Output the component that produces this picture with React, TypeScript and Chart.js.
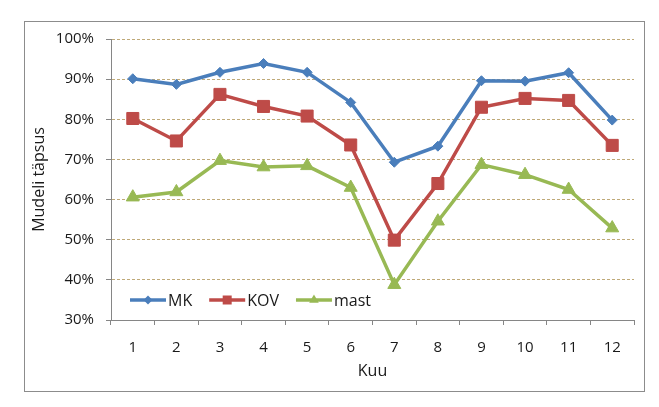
import { useEffect, useRef } from "react";
import { Chart, registerables } from "chart.js";

Chart.register(...registerables);

const months = ["1", "2", "3", "4", "5", "6", "7", "8", "9", "10", "11", "12"];
const mkValues = [90.1, 88.7, 91.7, 93.9, 91.7, 84.2, 69.3, 73.3, 89.6, 89.5, 91.6, 79.8];
const kovValues = [80.2, 74.6, 86.2, 83.2, 80.8, 73.6, 49.9, 64.0, 83.0, 85.2, 84.7, 73.5];
const mastValues = [60.6, 61.9, 69.7, 68.1, 68.4, 63.0, 38.8, 54.6, 68.7, 66.2, 62.5, 52.9];
const yTicks = [30, 40, 50, 60, 70, 80, 90, 100];

const FONT = "'Open Sans', sans-serif";
const TEXT = "#1a1a1a";
const AXIS = "#868686";

// small marker for the legend swatch
function drawMarker(ctx: CanvasRenderingContext2D, style: string, cx: number, cy: number) {
  ctx.beginPath();
  if (style === "rectRot") {
    const r = 4.5;
    ctx.moveTo(cx, cy - r);
    ctx.lineTo(cx + r, cy);
    ctx.lineTo(cx, cy + r);
    ctx.lineTo(cx - r, cy);
  } else if (style === "rect") {
    const h = 4.5;
    ctx.rect(cx - h, cy - h, 2 * h, 2 * h);
  } else {
    const r = 5.5;
    ctx.moveTo(cx, cy - r);
    ctx.lineTo(cx + r * 0.87, cy + r * 0.5);
    ctx.lineTo(cx - r * 0.87, cy + r * 0.5);
  }
  ctx.closePath();
  ctx.fill();
}

// legend drawn inside the plot area, bottom left (Excel style)
const insideLegend = {
  id: "insideLegend",
  afterDraw(chart: any) {
    const { ctx, chartArea } = chart;
    let x = chartArea.left + 19;
    const y = chartArea.bottom - 20;
    ctx.save();
    ctx.font = `16px ${FONT}`;
    ctx.textBaseline = "middle";
    chart.data.datasets.forEach((ds: any) => {
      const lineLen = 36;
      ctx.strokeStyle = ds.borderColor;
      ctx.lineWidth = 3.5;
      ctx.beginPath();
      ctx.moveTo(x, y);
      ctx.lineTo(x + lineLen, y);
      ctx.stroke();
      ctx.fillStyle = ds.borderColor;
      drawMarker(ctx, ds.pointStyle, x + lineLen / 2, y);
      ctx.fillStyle = TEXT;
      ctx.fillText(ds.label, x + lineLen + 2, y + 1);
      x += lineLen + 2 + ctx.measureText(ds.label).width + 17;
    });
    ctx.restore();
  },
};

export default function App() {
  const canvasRef = useRef<HTMLCanvasElement | null>(null);

  useEffect(() => {
    if (!canvasRef.current) return;
    const chart = new Chart(canvasRef.current, {
      type: "line",
      data: {
        labels: months,
        datasets: [
          {
            label: "MK",
            data: mkValues,
            borderColor: "#4a7ebb",
            backgroundColor: "#4a7ebb",
            borderWidth: 3.5,
            pointStyle: "rectRot",
            pointRadius: 5,
            pointBorderWidth: 1,
            tension: 0,
            order: 2,
          },
          {
            label: "KOV",
            data: kovValues,
            borderColor: "#be4b48",
            backgroundColor: "#be4b48",
            borderWidth: 3.5,
            pointStyle: "rect",
            pointRadius: 8.5,
            pointBorderWidth: 1,
            tension: 0,
            order: 1,
          },
          {
            label: "mast",
            data: mastValues,
            borderColor: "#98b954",
            backgroundColor: "#98b954",
            borderWidth: 3.5,
            pointStyle: "triangle",
            pointRadius: 7.5,
            pointBorderWidth: 1,
            tension: 0,
            order: 0,
          },
        ],
      },
      options: {
        animation: false,
        responsive: true,
        maintainAspectRatio: false,
        layout: { padding: { left: 24, right: 25, top: 39, bottom: 20 } },
        plugins: {
          legend: { display: false },
          tooltip: { enabled: false },
        },
        scales: {
          x: {
            offset: true,
            afterFit(scale: any) {
              scale.height = 407 - 20 - 320;
            },
            grid: {
              display: true,
              offset: true,
              drawOnChartArea: false,
              drawTicks: true,
              tickLength: 5,
              tickColor: AXIS,
            },
            border: { color: AXIS, width: 1 },
            ticks: {
              color: TEXT,
              padding: 14,
              font: { family: FONT, size: 15 },
            },
            title: {
              display: true,
              text: "Kuu",
              color: TEXT,
              padding: { top: 0, bottom: 6 },
              font: { family: FONT, size: 16 },
            },
          },
          y: {
            min: 30,
            max: 100,
            afterFit(scale: any) {
              scale.width = 111 - 24;
            },
            afterBuildTicks(scale: any) {
              scale.ticks = yTicks.map((v) => ({ value: v }));
            },
            grid: {
              color: (ctx: any) => (ctx.tick && ctx.tick.value === 30 ? "rgba(0,0,0,0)" : "#bfa978"),
              tickColor: AXIS,
              tickLength: 5,
              drawTicks: true,
            },
            border: { color: AXIS, width: 1, dash: [3, 2] },
            ticks: {
              color: TEXT,
              padding: 12,
              font: { family: FONT, size: 15 },
              callback: (v: any) => `${v}%`,
            },
            title: {
              display: true,
              text: "Mudeli täpsus",
              color: TEXT,
              padding: { top: 6, bottom: 0 },
              font: { family: FONT, size: 16 },
            },
          },
        },
      },
      plugins: [insideLegend],
    });
    return () => chart.destroy();
  }, []);

  return (
    <div style={{ position: "fixed", left: 0, top: 0, width: 659, height: 407, background: "#fff" }}>
      <div
        style={{
          position: "absolute",
          left: 24,
          top: 21,
          width: 619,
          height: 369,
          border: "1px solid #8c8c8c",
        }}
      />
      <div style={{ position: "absolute", left: 0, top: 0, width: 659, height: 407 }}>
        <canvas ref={canvasRef} />
      </div>
    </div>
  );
}
